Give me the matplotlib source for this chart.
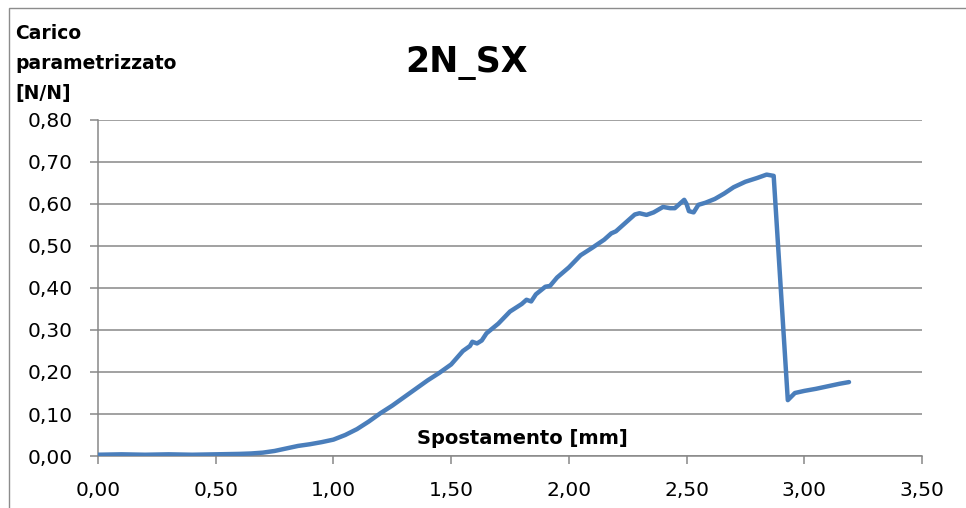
import matplotlib
matplotlib.use("Agg")
import matplotlib.pyplot as plt
from matplotlib.patches import Rectangle
from matplotlib.ticker import FuncFormatter, MultipleLocator

title = "2N_SX"
x_label = "Spostamento [mm]"
y_label = "Carico\nparametrizzato\n[N/N]"

spostamento = [0.00, 0.10, 0.20, 0.30, 0.40, 0.50, 0.60, 0.65, 0.70, 0.75,
               0.80, 0.85, 0.90, 0.95, 1.00, 1.05, 1.10, 1.15, 1.20, 1.25,
               1.30, 1.35, 1.40, 1.45, 1.50, 1.55, 1.58, 1.59, 1.61, 1.63,
               1.65, 1.70, 1.75, 1.80, 1.82, 1.84, 1.86, 1.90, 1.92, 1.95,
               2.00, 2.05, 2.10, 2.15, 2.18, 2.20, 2.25, 2.28, 2.30, 2.33,
               2.36, 2.40, 2.43, 2.45, 2.47, 2.49, 2.50, 2.51, 2.53, 2.55,
               2.58, 2.62, 2.66, 2.70, 2.75, 2.80, 2.84, 2.87, 2.93, 2.96,
               3.00, 3.05, 3.10, 3.15, 3.19]
carico = [0.003, 0.004, 0.003, 0.004, 0.003, 0.004, 0.005, 0.006, 0.008, 0.012,
          0.018, 0.024, 0.028, 0.033, 0.039, 0.050, 0.064, 0.082, 0.102, 0.120,
          0.140, 0.160, 0.180, 0.198, 0.218, 0.250, 0.262, 0.272, 0.268, 0.275,
          0.292, 0.315, 0.344, 0.362, 0.372, 0.368, 0.385, 0.403, 0.405, 0.425,
          0.449, 0.478, 0.496, 0.515, 0.530, 0.535, 0.560, 0.575, 0.578, 0.574,
          0.580, 0.593, 0.590, 0.590, 0.600, 0.610, 0.600, 0.583, 0.580, 0.598,
          0.603, 0.612, 0.625, 0.640, 0.653, 0.662, 0.670, 0.667, 0.133, 0.150,
          0.155, 0.160, 0.166, 0.172, 0.176]

plt.rcParams['font.family'] = ['DejaVu Sans']

W, H = 966, 508
fig = plt.figure(figsize=(W / 100, H / 100), dpi=100)
ax = fig.add_axes([98 / W, 1 - 456 / H, (922 - 98) / W, (456 - 120) / H])

grid_c = '#878787'
ax.plot(spostamento, carico, color='#4A7EBB', lw=3.2, solid_capstyle='round',
        solid_joinstyle='round', zorder=3)

ax.set_xlim(0, 3.5)
ax.set_ylim(0, 0.8)
ax.xaxis.set_major_locator(MultipleLocator(0.5))
ax.yaxis.set_major_locator(MultipleLocator(0.1))
fmt = FuncFormatter(lambda v, p: f"{v:.2f}".replace('.', ','))
ax.xaxis.set_major_formatter(fmt)
ax.yaxis.set_major_formatter(fmt)
ax.grid(axis='y', color=grid_c, lw=1.1)
ax.set_axisbelow(True)
for s in ['top', 'right']:
    ax.spines[s].set_visible(False)
for s in ['left', 'bottom']:
    ax.spines[s].set_color(grid_c)
    ax.spines[s].set_linewidth(1.1)
ax.tick_params(axis='both', colors=grid_c, labelcolor='black', labelsize=14.5,
               length=6, width=1.1, direction='out')
ax.tick_params(axis='x', pad=12)
ax.tick_params(axis='y', pad=12)

fig.text(467 / W, 1 - 63 / H, title, ha='center', va='center',
         fontsize=25, fontweight='bold')
fig.text(15 / W, 1 - 24 / H, y_label, ha='left', va='top', fontsize=13.5,
         fontweight='bold', linespacing=1.72)
ax.text(522 / W, 1 - 438 / H, x_label, transform=fig.transFigure, ha='center',
        va='center', fontsize=14, fontweight='bold')

fig.add_artist(Rectangle((9 / W, -0.01), 1.0, 1 - 8 / H + 0.01,
                         transform=fig.transFigure, fill=False,
                         edgecolor='#8c8c8c', lw=1.0))

fig.savefig('out.png', dpi=100)
